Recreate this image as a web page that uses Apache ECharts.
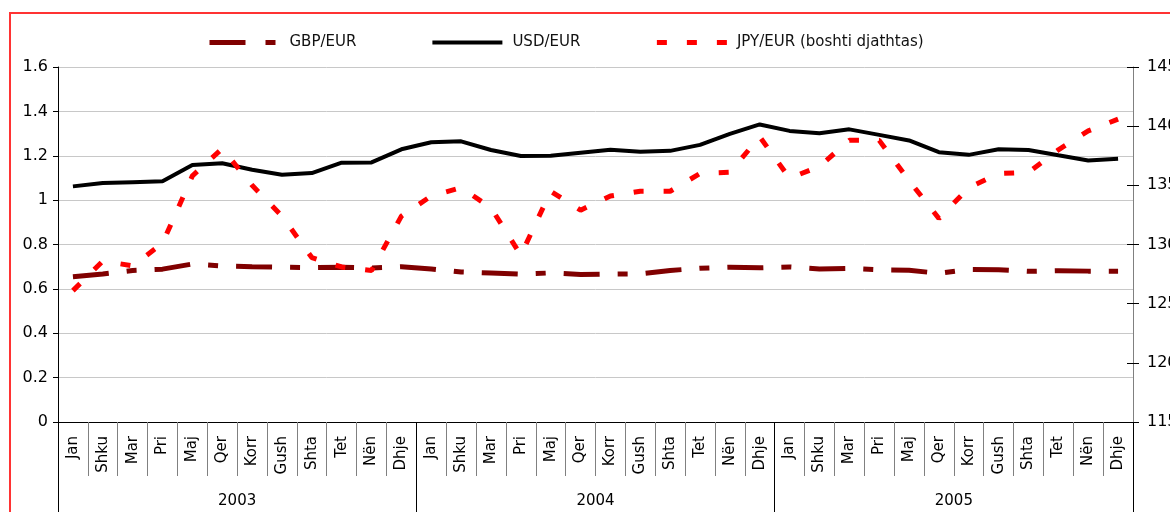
<!DOCTYPE html>
<html>
<head>
<meta charset="utf-8">
<script src="https://cdn.jsdelivr.net/npm/echarts@6/dist/echarts.min.js"></script>
<style>
  html, body { margin: 0; padding: 0; background: #fff; }
  #chart { width: 1170px; height: 512px; }
</style>
</head>
<body>
<div id="chart"></div>
<script>
const months = ['Jan', 'Shku', 'Mar', 'Pri', 'Maj', 'Qer', 'Korr', 'Gush', 'Shta', 'Tet', 'Nën', 'Dhje'];
const years = ['2003', '2004', '2005'];
const categories = [].concat(months, months, months);

const gbpEur = [
  0.655, 0.667, 0.683, 0.689, 0.712, 0.703, 0.700, 0.698, 0.696, 0.698, 0.694, 0.700,
  0.690, 0.676, 0.671, 0.666, 0.672, 0.665, 0.667, 0.668, 0.683, 0.693, 0.698, 0.695,
  0.699, 0.690, 0.692, 0.686, 0.684, 0.670, 0.687, 0.686, 0.679, 0.682, 0.680, 0.680
];
const usdEur = [
  1.062, 1.077, 1.081, 1.085, 1.158, 1.166, 1.137, 1.114, 1.122, 1.169, 1.170, 1.229,
  1.261, 1.265, 1.226, 1.199, 1.200, 1.214, 1.227, 1.218, 1.222, 1.249, 1.299, 1.341,
  1.312, 1.301, 1.319, 1.294, 1.269, 1.216, 1.204, 1.229, 1.226, 1.202, 1.179, 1.186
];
const jpyEur = [
  126.1, 128.6, 128.2, 130.1, 135.8, 138.1, 135.0, 132.4, 128.9, 128.1, 127.8, 132.4,
  134.1, 134.8, 133.1, 129.1, 134.5, 132.9, 134.1, 134.5, 134.5, 136.0, 136.1, 139.1,
  135.6, 136.6, 138.8, 138.8, 135.4, 132.2, 134.8, 136.0, 136.1, 138.0, 139.6, 140.6
];

const chart = echarts.init(document.getElementById('chart'));
const font = 'DejaVu Sans';

chart.setOption({
  animation: false,
  textStyle: { fontFamily: font },
  graphic: [
    {
      type: 'rect',
      shape: { x: 10, y: 13, width: 1200, height: 600 },
      style: { fill: 'none', stroke: '#ff3333', lineWidth: 2 },
      silent: true
    }
  ],
  legend: {
    top: 30,
    left: 202,
    itemWidth: 70,
    itemHeight: 14,
    itemGap: 74,
    itemStyle: { opacity: 0 },
    textStyle: { fontFamily: font, fontSize: 15, color: '#111', padding: [0, 0, 0, 5] },
    data: [
      { name: 'GBP/EUR', lineStyle: { width: 5, type: [36, 20, 10, 20], cap: 'butt' } },
      { name: 'USD/EUR', lineStyle: { width: 4 } },
      { name: 'JPY/EUR (boshti djathtas)', lineStyle: { width: 5, type: [10, 20], cap: 'butt' } }
    ]
  },
  grid: { left: 58, right: 37, top: 67, bottom: 90, outerBoundsMode: 'none', containLabel: false },
  xAxis: [
    {
      type: 'category',
      data: categories,
      position: 'bottom',
      axisLine: { lineStyle: { color: '#000', width: 1 } },
      axisTick: { show: true, interval: 0, length: 54, lineStyle: { color: '#808080' } },
      axisLabel: {
        interval: 0, rotate: 90, margin: 14,
        fontFamily: font, fontSize: 15, color: '#000'
      },
      splitLine: { show: false }
    },
    {
      type: 'category',
      data: years,
      position: 'bottom',
      offset: 0,
      axisLine: { show: false },
      axisTick: { show: true, interval: 0, length: 100, lineStyle: { color: '#000' } },
      axisLabel: { margin: 72, fontFamily: font, fontSize: 15, color: '#000' },
      splitLine: { show: false }
    }
  ],
  yAxis: [
    {
      type: 'value',
      min: 0, max: 1.6, interval: 0.2,
      position: 'left',
      axisLine: { show: true, lineStyle: { color: '#000' } },
      axisTick: { show: true, length: 5, lineStyle: { color: '#000' } },
      axisLabel: { fontFamily: font, fontSize: 16, color: '#000', margin: 10 },
      splitLine: { show: true, lineStyle: { color: '#c8c8c8', width: 1 } }
    },
    {
      type: 'value',
      min: 115, max: 145, interval: 5,
      position: 'right',
      axisLine: { show: true, lineStyle: { color: '#808080' } },
      axisTick: { show: true, length: 6, lineStyle: { color: '#000' } },
      axisLabel: { fontFamily: font, fontSize: 16, color: '#000', margin: 14 },
      splitLine: { show: false }
    },
    {
      // inner half of the right-hand ticks
      type: 'value',
      min: 115, max: 145, interval: 5,
      position: 'right',
      axisLine: { show: false },
      axisTick: { show: true, inside: true, length: 6, lineStyle: { color: '#000' } },
      axisLabel: { show: false },
      splitLine: { show: false }
    }
  ],
  series: [
    {
      name: 'GBP/EUR',
      type: 'line',
      data: gbpEur,
      yAxisIndex: 0,
      symbol: 'none',
      itemStyle: { color: '#800000' },
      lineStyle: { color: '#800000', width: 5, type: [36, 18, 10, 18], cap: 'butt' }
    },
    {
      name: 'USD/EUR',
      type: 'line',
      data: usdEur,
      yAxisIndex: 0,
      symbol: 'none',
      itemStyle: { color: '#000' },
      lineStyle: { color: '#000', width: 4 }
    },
    {
      name: 'JPY/EUR (boshti djathtas)',
      type: 'line',
      data: jpyEur,
      yAxisIndex: 1,
      symbol: 'none',
      itemStyle: { color: '#ff0000' },
      lineStyle: { color: '#ff0000', width: 5, type: [10, 20], cap: 'butt' }
    }
  ]
});
</script>
</body>
</html>
